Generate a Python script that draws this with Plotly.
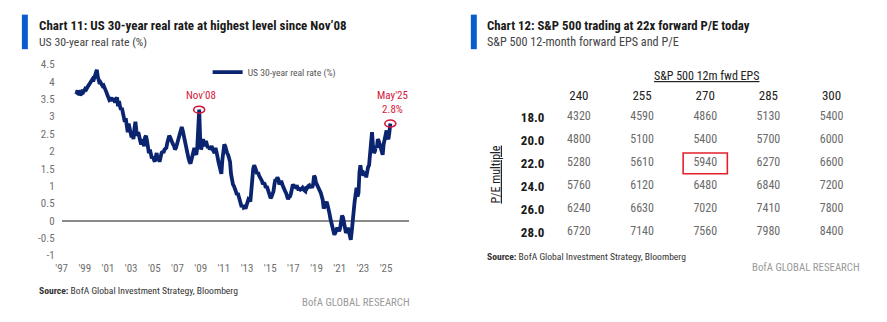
import pandas as pd
import plotly.graph_objects as go

# ---------------- data ----------------
# US 30-year real rate (%), monthly, Mar-1998 .. May-2025
RATE_START = "1998-03-01"
real_rate = [
    # 1998 (Mar-Dec)
    3.72, 3.70, 3.74, 3.68, 3.70, 3.62, 3.66, 3.72, 3.70, 3.76,
    # 1999
    3.80, 3.78, 3.85, 3.88, 3.92, 3.98, 4.02, 4.05, 4.10, 4.08, 4.15, 4.22,
    # 2000
    4.35, 4.15, 4.00, 3.95, 3.98, 3.92, 3.88, 3.90, 3.85, 3.80, 3.70, 3.62,
    # 2001
    3.55, 3.48, 3.50, 3.55, 3.45, 3.52, 3.48, 3.40, 3.50, 3.55, 3.30, 3.45,
    # 2002
    3.30, 3.20, 3.25, 3.10, 3.00, 2.85, 2.95, 2.70, 2.55, 2.80, 2.65, 2.50,
    # 2003
    2.40, 2.55, 2.35, 2.65, 2.85, 2.60, 2.45, 2.55, 2.35, 2.30, 2.20, 2.35,
    # 2004
    2.25, 2.15, 2.40, 2.45, 2.30, 2.10, 1.95, 2.05, 1.90, 1.80, 1.85, 1.75,
    # 2005
    1.70, 1.85, 1.95, 1.75, 1.80, 1.70, 1.85, 1.95, 2.00, 1.95, 2.05, 2.10,
    # 2006
    2.10, 2.25, 2.35, 2.45, 2.40, 2.30, 2.25, 2.20, 2.15, 2.05, 2.10, 2.20,
    # 2007
    2.25, 2.35, 2.40, 2.55, 2.70, 2.60, 2.45, 2.30, 2.20, 2.00, 1.85, 1.80,
    # 2008
    1.70, 1.65, 1.75, 1.90, 2.00, 2.10, 1.95, 1.90, 2.10, 2.50, 3.20, 2.40,
    # 2009
    2.05, 2.20, 2.35, 2.25, 2.15, 2.30, 2.20, 2.10, 2.15, 2.05, 2.10, 2.15,
    # 2010
    2.05, 2.00, 1.95, 2.10, 1.90, 1.85, 1.70, 1.55, 1.40, 1.35, 1.75, 2.15,
    # 2011
    2.20, 2.15, 2.00, 1.95, 1.90, 1.80, 1.70, 1.35, 1.10, 1.05, 1.00, 0.95,
    # 2012
    0.85, 0.75, 0.80, 0.70, 0.55, 0.50, 0.40, 0.45, 0.38, 0.40, 0.35, 0.42,
    # 2013
    0.50, 0.62, 0.60, 0.55, 0.85, 1.35, 1.50, 1.60, 1.55, 1.45, 1.35, 1.40,
    # 2014
    1.30, 1.25, 1.20, 1.15, 1.05, 1.10, 1.05, 0.95, 1.00, 0.90, 0.85, 0.75,
    # 2015
    0.65, 0.70, 0.75, 0.85, 1.05, 1.20, 1.15, 1.25, 1.20, 1.05, 1.10, 1.15,
    # 2016
    1.05, 0.95, 0.90, 0.85, 0.80, 0.70, 0.62, 0.68, 0.70, 0.78, 0.95, 1.05,
    # 2017
    1.00, 0.98, 1.02, 0.92, 0.95, 0.88, 0.95, 0.90, 0.92, 0.95, 0.90, 0.88,
    # 2018
    0.85, 0.98, 0.95, 1.00, 1.02, 0.95, 1.00, 0.95, 1.05, 1.30, 1.25, 1.10,
    # 2019
    1.05, 1.00, 0.95, 0.90, 0.80, 0.70, 0.60, 0.35, 0.45, 0.50, 0.55, 0.45,
    # 2020
    0.35, 0.20, 0.05, -0.05, -0.15, -0.25, -0.40, -0.35, -0.30, -0.20, -0.25, -0.30,
    # 2021
    -0.20, 0.05, 0.15, 0.10, -0.10, -0.15, -0.35, -0.30, -0.20, -0.30, -0.50, -0.55,
    # 2022
    -0.30, 0.10, 0.20, 0.55, 0.75, 0.95, 0.70, 0.80, 1.40, 1.60, 1.40, 1.45,
    # 2023
    1.30, 1.35, 1.40, 1.25, 1.45, 1.55, 1.60, 1.85, 2.20, 2.55, 2.15, 1.95,
    # 2024
    2.00, 2.15, 2.10, 2.35, 2.30, 2.20, 2.10, 2.00, 1.90, 2.20, 2.35, 2.45,
    # 2025 (Jan-May)
    2.60, 2.40, 2.35, 2.55, 2.80,
]
rate_dates = pd.date_range(RATE_START, periods=len(real_rate), freq="MS") + pd.Timedelta(days=14)

# Highlighted observations: (date, label)
callouts = [("2008-11-15", "Nov'08"), ("2025-05-15", "May'25<br>2.8%")]

y_ticks = [4.5, 4, 3.5, 3, 2.5, 2, 1.5, 1, 0.5, 0, -0.5, -1]
y_ticktext = ["4.5", "4", "3.5", "3", "2.5", "2", "1.5", "1", "0.5", "0", "-0.5", "-1"]
x_tick_years = list(range(1997, 2027, 2))
x_ticktext = ["'" + str(y)[2:] for y in x_tick_years]

# S&P 500 level grid: forward EPS (columns) x P/E multiple (rows)
eps_cols = ["240", "255", "270", "285", "300"]
pe_rows = ["18.0", "20.0", "22.0", "24.0", "26.0", "28.0"]
spx_grid = [
    [4320, 4590, 4860, 5130, 5400],
    [4800, 5100, 5400, 5700, 6000],
    [5280, 5610, 5940, 6270, 6600],
    [5760, 6120, 6480, 6840, 7200],
    [6240, 6630, 7020, 7410, 7800],
    [6720, 7140, 7560, 7980, 8400],
]
current = ("22.0", "270")

# ---------------- styling ----------------
FONT = "Roboto Condensed, Roboto, sans-serif"
NAVY = "#0b2470"
RED = "#d5173c"
BAR_BLUE = "#0a5bd0"
W, H = 887, 322


def px(x):
    return x / W


def py(y):
    return 1 - y / H


fig = go.Figure()

fig.add_trace(go.Scatter(
    x=rate_dates, y=real_rate, mode="lines", name="US 30-year real rate (%)",
    line=dict(color=NAVY, width=3.8), xaxis="x", yaxis="y",
))

# table cells
cell_x, cell_y, cell_t = [], [], []
for r, row in enumerate(spx_grid):
    for c, v in enumerate(row):
        cell_x.append(c)
        cell_y.append(r)
        cell_t.append(str(v))
fig.add_trace(go.Scatter(
    x=cell_x, y=cell_y, text=cell_t, mode="text", showlegend=False,
    textfont=dict(family=FONT, size=12, color="#6a6a6a"),
    xaxis="x2", yaxis="y2", hoverinfo="skip",
))

shapes = []
annotations = []

# callout circles + labels on the rate chart
rate_lookup = dict(zip(rate_dates.strftime("%Y-%m-%d"), real_rate))
for d, label in callouts:
    v = rate_lookup[d]
    shapes.append(dict(
        type="circle", xref="x", yref="y", xsizemode="pixel", ysizemode="pixel",
        xanchor=d, yanchor=v, x0=-5.5, x1=5.5, y0=-3.5, y1=3.5,
        line=dict(color=RED, width=1.6), fillcolor="rgba(0,0,0,0)",
    ))
    annotations.append(dict(
        x=d, y=v, xref="x", yref="y", text=label, showarrow=False,
        yanchor="bottom", yshift=6, xshift=2,
        font=dict(family=FONT, size=11, color=RED),
    ))

# highlighted table cell
ci = eps_cols.index(current[1])
ri = pe_rows.index(current[0])
shapes.append(dict(
    type="rect", xref="x2", yref="y2", x0=ci - 0.35, x1=ci + 0.35,
    y0=ri - 0.45, y1=ri + 0.45, line=dict(color="#e3202a", width=1.6),
))

# title bars
for x0 in (16, 468):
    shapes.append(dict(type="rect", xref="paper", yref="paper",
                       x0=px(x0), x1=px(x0 + 6), y0=py(45), y1=py(9),
                       fillcolor=BAR_BLUE, line=dict(width=0)))


def text(x, y, t, size, color="#222", xanchor="left", **kw):
    annotations.append(dict(
        x=px(x), y=py(y), xref="paper", yref="paper", text=t, showarrow=False,
        xanchor=xanchor, yanchor="middle", font=dict(family=FONT, size=size, color=color), **kw,
    ))


# left panel text
text(31, 20, "<b>Chart 11: US 30-year real rate at highest level since Nov\u201908</b>", 13, "#1a1a1a")
text(31, 37, "US 30-year real rate (%)", 11.8, "#444")
text(31, 296, "<b>Source:</b> BofA Global Investment Strategy, Bloomberg", 9.6, "#333")
text(409, 309, "BofA GLOBAL RESEARCH", 10.8, "#9a9a9a", xanchor="right")

# right panel text
text(482, 20, "<b>Chart 12: S&P 500 trading at 22x forward P/E today</b>", 12.8, "#1a1a1a")
text(482, 37, "S&P 500 12-month forward EPS and P/E", 12.2, "#444")
text(705, 73, "<u>S&P 500 12m fwd EPS</u>", 12, "#222", xanchor="center")
text(493, 176, "<u>P/E multiple</u>", 12, "#222", xanchor="center", textangle=-90)
text(482, 261, "<b>Source:</b> BofA Global Investment Strategy, Bloomberg", 9.6, "#333")
text(862, 273, "BofA GLOBAL RESEARCH", 10.8, "#9a9a9a", xanchor="right")

fig.update_layout(
    width=W, height=H, margin=dict(l=0, r=0, t=0, b=0),
    paper_bgcolor="white", plot_bgcolor="white",
    font=dict(family=FONT, color="#555"),
    shapes=shapes, annotations=annotations,
    showlegend=True,
    legend=dict(x=px(203), y=py(69), xanchor="left", yanchor="middle",
                bgcolor="rgba(0,0,0,0)", font=dict(family=FONT, size=9.6, color="#555"),
                itemwidth=30, tracegroupgap=0),
    xaxis=dict(
        domain=[px(56), px(406)], type="date",
        range=["1997-01-01", "2027-01-01"],
        tickvals=[f"{y}-01-01" for y in x_tick_years], ticktext=x_ticktext,
        showgrid=False, showline=False, zeroline=False, ticks="",
        tickfont=dict(family=FONT, size=11, color="#707070"), ticklabelstandoff=4,
    ),
    yaxis=dict(
        domain=[py(260), py(61)], range=[-1, 4.5],
        tickvals=y_ticks, ticktext=y_ticktext,
        showgrid=False, showline=False, ticks="",
        zeroline=True, zerolinecolor="#8a8a8a", zerolinewidth=1.6,
        tickfont=dict(family=FONT, size=11, color="#707070"), ticklabelstandoff=6,
    ),
    xaxis2=dict(
        domain=[px(545), px(863)], range=[-0.5, 4.5], anchor="y2", side="top",
        tickvals=list(range(len(eps_cols))), ticktext=eps_cols,
        showgrid=False, showline=False, zeroline=False, ticks="",
        tickfont=dict(family=FONT, size=13, color="#222"), ticklabelstandoff=2,
    ),
    yaxis2=dict(
        domain=[py(248), py(104)], range=[5.5, -0.5], anchor="x2",
        tickvals=list(range(len(pe_rows))), ticktext=[f"<b>{r}</b>" for r in pe_rows],
        showgrid=False, showline=False, zeroline=False, ticks="",
        tickfont=dict(family=FONT, size=13, color="#1a1a1a"), ticklabelstandoff=2,
    ),
)

fig.write_html("out.html")
